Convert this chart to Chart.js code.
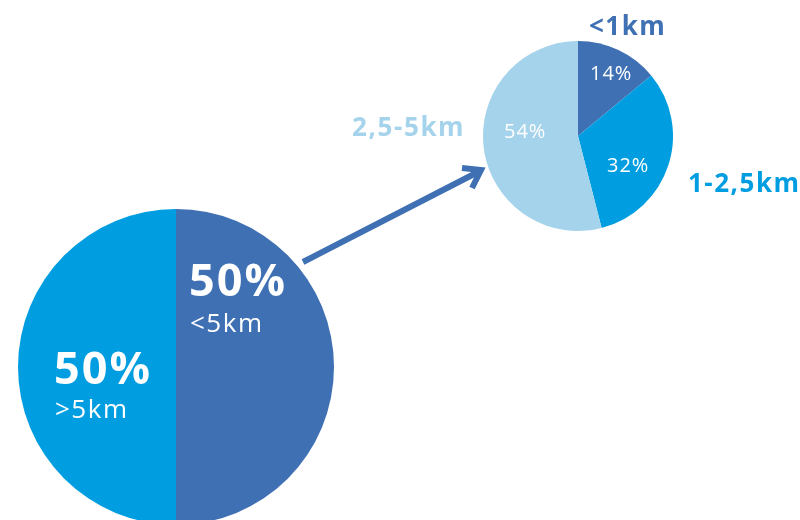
<!DOCTYPE html>
<html>
<head>
<meta charset="utf-8">
<script src="https://cdn.jsdelivr.net/npm/chart.js@4/dist/chart.umd.min.js"></script>
<style>
  html, body { margin: 0; padding: 0; background: #fff; overflow: hidden; width: 800px; height: 520px; }
  #wrap { position: relative; width: 800px; height: 520px; overflow: hidden; }
  canvas { position: absolute; }
  #big { left: 18px; top: 209px; }
  #small { left: 483px; top: 41px; }
  svg { position: absolute; left: 0; top: 0; }
  text { font-family: "Open Sans", "Noto Sans", sans-serif; }
</style>
</head>
<body>
<div id="wrap">
  <canvas id="big" width="316" height="316"></canvas>
  <canvas id="small" width="190" height="190"></canvas>
  <svg id="ov" width="800" height="520" xmlns="http://www.w3.org/2000/svg"></svg>
</div>
<script>
// ---- data ----
const bigCategories = ['<5km', '>5km'];
const bigValues = [50, 50];
const bigColors = ['#3e70b3', '#009ee0'];

const smallCategories = ['<1km', '1-2,5km', '2,5-5km'];
const smallValues = [14, 32, 54];
const smallColors = ['#3e70b3', '#009ee0', '#a5d3eb'];

const pieOptions = {
  responsive: false,
  maintainAspectRatio: false,
  animation: false,
  layout: { padding: 0 },
  plugins: { legend: { display: false }, tooltip: { enabled: false } },
  elements: { arc: { borderWidth: 0 } }
};

new Chart(document.getElementById('big'), {
  type: 'pie',
  data: { labels: bigCategories, datasets: [{ data: bigValues, backgroundColor: bigColors, borderWidth: 0 }] },
  options: pieOptions
});
new Chart(document.getElementById('small'), {
  type: 'pie',
  data: { labels: smallCategories, datasets: [{ data: smallValues, backgroundColor: smallColors, borderWidth: 0 }] },
  options: pieOptions
});

// ---- overlay: arrow and text ----
const NS = 'http://www.w3.org/2000/svg';
const svg = document.getElementById('ov');
function addText(str, x, y, size, weight, color, spacing) {
  const t = document.createElementNS(NS, 'text');
  t.setAttribute('x', x); t.setAttribute('y', y);
  t.setAttribute('font-size', size); t.setAttribute('font-weight', weight);
  t.setAttribute('fill', color);
  t.setAttribute('letter-spacing', spacing);
  t.textContent = str;
  svg.appendChild(t);
}
function addPath(d) {
  const p = document.createElementNS(NS, 'path');
  p.setAttribute('d', d);
  p.setAttribute('stroke', '#3e70b3');
  p.setAttribute('stroke-width', 6);
  p.setAttribute('fill', 'none');
  p.setAttribute('stroke-linejoin', 'miter');
  svg.appendChild(p);
}
addPath('M303 262 L480 171');
addPath('M462 168 L481 170 L472 188');

// big pie labels
addText(bigValues[0] + '%', 189, 296, 45, 700, '#ffffff', 2);
addText(bigCategories[0], 190, 332, 26, 400, '#ffffff', 1.5);
addText(bigValues[1] + '%', 54, 384, 45, 700, '#ffffff', 2);
addText(bigCategories[1], 55, 418, 26, 400, '#ffffff', 1.5);

// small pie value labels
addText(smallValues[0] + '%', 590, 80, 20, 400, '#ffffff', 1);
addText(smallValues[1] + '%', 607, 172, 20, 400, '#ffffff', 1);
addText(smallValues[2] + '%', 504, 138, 20, 400, '#ffffff', 1);

// small pie category labels
addText(smallCategories[0], 589, 35, 26, 700, smallColors[0], 1.5);
addText(smallCategories[1], 688, 192, 26, 700, smallColors[1], 1.5);
addText(smallCategories[2], 352, 136, 26, 700, smallColors[2], 1.6);
</script>
</body>
</html>
